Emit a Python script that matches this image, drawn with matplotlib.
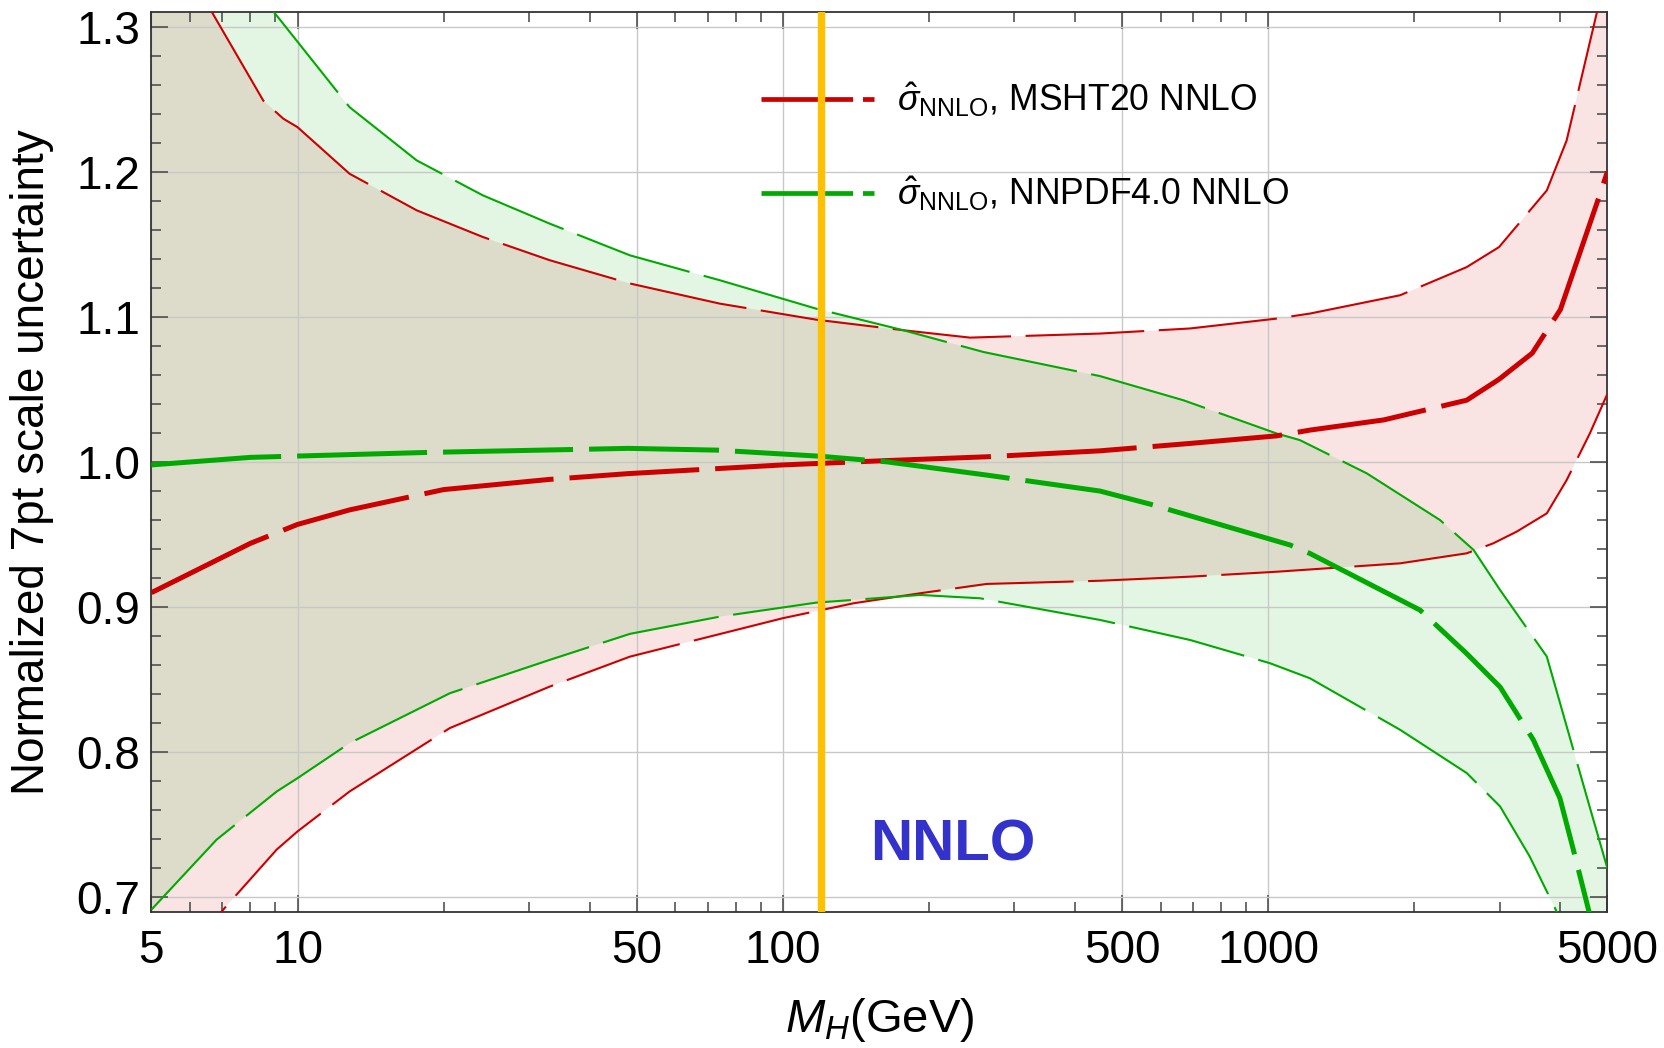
import numpy as np
import matplotlib
matplotlib.use("Agg")
import matplotlib.pyplot as plt
from matplotlib.lines import Line2D
from matplotlib.ticker import FixedLocator, NullFormatter, FuncFormatter

plt.rcParams['font.family'] = ['Liberation Sans', 'DejaVu Sans']
plt.rcParams['mathtext.fontset'] = 'custom'
plt.rcParams['mathtext.rm'] = 'Liberation Sans'
plt.rcParams['mathtext.it'] = 'Liberation Sans:italic'
plt.rcParams['mathtext.bf'] = 'Liberation Sans:bold'

# ---- data (M_H in GeV, normalised scale uncertainty) ----
# MSHT20 NNLO
msht_c_x = [5, 8, 10, 12.8, 20, 33, 48, 100, 164, 263, 450, 690, 1040, 1220, 1730, 2565, 2990, 3500, 4000, 4775, 5000]
msht_c_y = [0.910, 0.944, 0.957, 0.967, 0.981, 0.988, 0.992, 0.998, 1.001, 1.0036, 1.0077, 1.0128, 1.018, 1.022,
            1.029, 1.0426, 1.057, 1.075, 1.105, 1.180, 1.200]
msht_up_x = [5, 6.66, 8.5, 9.35, 10, 12.8, 17.6, 24.1, 33.1, 48.4, 74.2, 117, 177, 243, 450, 690, 1040, 1220,
             1870, 2565, 2990, 3750, 4120, 4755, 5000]
msht_up_y = [1.38, 1.31, 1.249, 1.2365, 1.2307, 1.1986, 1.1734, 1.155, 1.139, 1.123, 1.1091, 1.0981, 1.0908,
             1.0857, 1.0885, 1.092, 1.0988, 1.1023, 1.1149, 1.1343, 1.1481, 1.1871, 1.2215, 1.3096, 1.34]
msht_lo_x = [5, 7.03, 9.06, 10, 12.8, 20.6, 33.1, 48.4, 100, 140, 192, 263, 450, 690, 1040, 1870, 2565, 2910,
             3250, 3750, 4120, 4600, 5000]
msht_lo_y = [0.63, 0.6916, 0.733, 0.7455, 0.773, 0.8167, 0.8453, 0.8659, 0.8924, 0.9027, 0.9096, 0.916, 0.9182,
             0.921, 0.9244, 0.9302, 0.9371, 0.944, 0.952, 0.9646, 0.9875, 1.0197, 1.047]

# NNPDF4.0 NNLO
nnpdf_c_x = [5, 8, 18.5, 48, 73, 119, 164, 263, 450, 571, 1110, 1219, 2055, 2565, 3005, 3518, 3990, 4253, 5000]
nnpdf_c_y = [0.998, 1.0032, 1.0066, 1.0094, 1.0082, 1.004, 1.0001, 0.991, 0.980, 0.971, 0.9428, 0.937, 0.898,
             0.868, 0.845, 0.8086, 0.7685, 0.733, 0.64]
nnpdf_up_x = [5, 8.94, 12.8, 17.6, 24.1, 33.1, 48.4, 74.2, 117, 177, 259, 450, 668, 1040, 1162, 1596, 2260,
              2650, 3005, 3750, 4120, 4600, 5000]
nnpdf_up_y = [1.43, 1.31, 1.2445, 1.2078, 1.1837, 1.1642, 1.1424, 1.1252, 1.1057, 1.0908, 1.0758, 1.0592,
              1.0426, 1.0197, 1.0151, 0.9922, 0.960, 0.9394, 0.9118, 0.866, 0.818, 0.762, 0.72]
nnpdf_lo_x = [5, 6.81, 9.06, 10, 12.8, 20.6, 33.1, 48.4, 74.2, 117, 192, 255, 450, 690, 1008, 1219, 1870, 2565,
              3005, 3457, 4000, 5000]
nnpdf_lo_y = [0.6916, 0.7398, 0.773, 0.7822, 0.8063, 0.8407, 0.8637, 0.8816, 0.8935, 0.9031, 0.9084, 0.9061,
              0.8912, 0.8774, 0.8614, 0.851, 0.8155, 0.7857, 0.7627, 0.7283, 0.685, 0.58]

m_higgs = 120
labels = [r'$\hat{\sigma}_{\mathrm{NNLO}}$, MSHT20 NNLO', r'$\hat{\sigma}_{\mathrm{NNLO}}$, NNPDF4.0 NNLO']
x_major = [5, 10, 50, 100, 500, 1000, 5000]

red = '#cc0000'
green = '#00aa00'

fig = plt.figure(figsize=(16.64, 10.48), dpi=100)
ax = fig.add_axes([0.091, 0.1298, 0.875, 0.8587])
ax.set_xscale('log')

# bands
ax.fill(np.r_[msht_up_x, msht_lo_x[::-1]], np.r_[msht_up_y, msht_lo_y[::-1]],
        color=red, alpha=0.11, lw=0, zorder=1)
ax.fill(np.r_[nnpdf_up_x, nnpdf_lo_x[::-1]], np.r_[nnpdf_up_y, nnpdf_lo_y[::-1]],
        color=green, alpha=0.11, lw=0, zorder=1.1)

# band edges (thin dashed)
for xx, yy, c in [(msht_up_x, msht_up_y, red), (msht_lo_x, msht_lo_y, red),
                  (nnpdf_up_x, nnpdf_up_y, green), (nnpdf_lo_x, nnpdf_lo_y, green)]:
    ax.plot(xx, yy, color=c, lw=1.5, dashes=(57, 7), zorder=3)

# central values (thick dashed)
ax.plot(msht_c_x, msht_c_y, color=red, lw=3.6, dashes=(26, 3.2), zorder=4)
ax.plot(nnpdf_c_x, nnpdf_c_y, color=green, lw=3.6, dashes=(26, 3.2), zorder=4)

ax.axvline(m_higgs, color='#ffc000', lw=5.3, zorder=6)

ax.text(224, 0.736, 'NNLO', color='#3333cc', fontsize=42, fontweight='bold',
        ha='center', va='center', zorder=5)

# legend
handles = [Line2D([], [], color=red, lw=3.4, dashes=(19.4, 2.1)),
           Line2D([], [], color=green, lw=3.4, dashes=(19.4, 2.1))]
leg = ax.legend(handles, labels, loc='upper left', bbox_to_anchor=(0.419, 0.924), frameon=False,
                fontsize=25.6, borderpad=0, borderaxespad=0, handlelength=3.16,
                handletextpad=0.64, labelspacing=1.55)

ax.set_xlim(5, 5000)
ax.set_ylim(0.69, 1.31)

ax.xaxis.set_major_locator(FixedLocator(x_major))
ax.xaxis.set_major_formatter(FuncFormatter(lambda v, p: '%d' % v))
minor = [m * d for d in [1, 10, 100, 1000] for m in range(2, 10)]
minor = [v for v in minor if v not in x_major and 5 < v < 5000]
ax.xaxis.set_minor_locator(FixedLocator(minor))
ax.xaxis.set_minor_formatter(NullFormatter())
ax.yaxis.set_major_locator(FixedLocator(np.arange(0.7, 1.31, 0.1)))
ax.yaxis.set_minor_locator(FixedLocator(np.arange(0.7, 1.31, 0.02)))
ax.yaxis.set_major_formatter(FuncFormatter(lambda v, p: '%.1f' % v))

ax.tick_params(which='both', direction='in', top=True, right=True, color='#444444', width=1.1)
ax.tick_params(which='major', length=12, labelsize=33)
ax.tick_params(axis='x', which='major', pad=12)
ax.tick_params(axis='y', which='major', pad=8)
ax.tick_params(which='minor', length=7)

ax.grid(True, which='major', color='#c8c8c8', lw=1)
for s in ax.spines.values():
    s.set_color('#333333')
    s.set_linewidth(1.3)

ax.set_xlabel(r'$M_H$(GeV)', fontsize=34, labelpad=17)
ax.set_ylabel('Normalized 7pt scale uncertainty', fontsize=33, labelpad=16)

fig.savefig('out.png', dpi=100)
